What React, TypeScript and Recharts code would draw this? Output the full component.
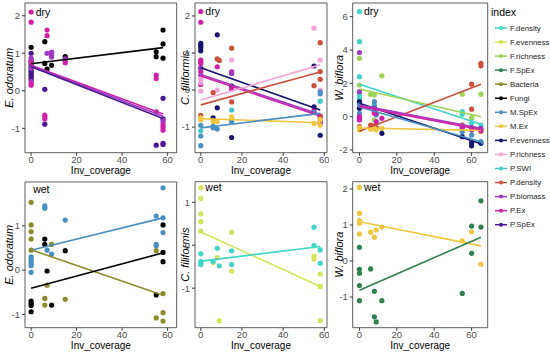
import { ScatterChart, Scatter, XAxis, YAxis, ReferenceArea, ReferenceDot } from "recharts";

type Pt = [number, number];

// colours per index
const COLORS: Record<string, string> = {
  "F.density": "#3FD6C8",
  "F.evenness": "#D4E45A",
  "F.richness": "#9ED455",
  "F.SpEx": "#2E8050",
  "Bacteria": "#8C8C2C",
  "Fungi": "#000000",
  "M.SpEx": "#4A8FC2",
  "M.Ex": "#EFC640",
  "P.evenness": "#14146E",
  "P.richness": "#F2A6D8",
  "P.SWI": "#40C4C4",
  "P.density": "#C8503C",
  "P.biomass": "#A038C0",
  "P.Ex": "#D020A8",
  "P.SpEx": "#4A1890",
};
const legendKeys = Object.keys(COLORS);
const xTicks = [0, 20, 40, 60];

// ---- dry / E. odoratum
const d1Fungi: Pt[] = [[0, 1.16], [0, 0.78], [0, 0.63], [0, 0.5], [0, 0.4], [0, 0.3], [6, 1.31], [6, 0.73], [7, 0.58], [9, 0.68], [15, 0.91], [15, 0.86], [55, 1.04], [55, 0.91], [58, 1.62], [58, 1.25], [58, 0.87]];
const d1SpEx: Pt[] = [[0, 1.0], [0, 0.7], [0, 0.55], [0, 0.45], [0, 0.35], [6, 0.04], [6, -0.89], [58, -0.2], [58, -0.75], [58, -1.4], [58, -1.43], [55, -1.45]];
const d1Biomass: Pt[] = [[0, 0.87], [0, 0.82], [0, 0.6], [0, 0.25], [7, 1.0], [9, 1.03], [9, 0.95], [9, 0.9], [15, 0.85], [15, 0.8], [55, -0.56], [58, -0.85], [58, -0.78]];
const d1Ex: Pt[] = [[0, 1.83], [0, 0.75], [0, 0.2], [0, 0.15], [7, 1.62], [7, 1.47], [6, -0.65], [6, -0.7], [6, -0.75], [15, 0.75], [55, 0.42], [55, 0.33], [58, -0.92], [58, -0.98], [58, -1.05]];
const d1Fit = { Fungi: [0.72, 1.15], "P.Ex": [0.68, -0.62], "P.biomass": [0.66, -0.68], "P.SpEx": [0.64, -0.74] };

// ---- dry / C. filiformis
const d2Even: Pt[] = [[0, 1.26], [0, 1.2], [0, 1.14], [0, 1.06], [0, 0.6], [6, -0.75], [8, 1.49], [8, -0.48], [15, 0.11], [15, -1.28], [55, 0.65], [55, -0.45], [58, -1.22]];
const d2Ex: Pt[] = [[0, 1.83], [0, 0.81], [0, 0.77], [0, 0.72], [0, 0.5], [0, 0.15], [8, 0.63], [15, 0.49], [15, 0.02], [55, -0.55], [58, -0.7], [58, -0.85], [58, -0.9]];
const d2Biomass: Pt[] = [[0, 0.6], [0, 0.4], [15, 0.45], [58, -0.75]];
const d2Rich: Pt[] = [[0, 0.3], [0, 0.2], [0, -0.03], [8, 0.0], [15, 0.81], [55, 1.67], [58, 0.81], [58, 0.0]];
const d2Dens: Pt[] = [[0, -0.68], [6, -0.07], [8, 0.84], [9, 0.8], [15, 1.13], [15, -0.32], [55, 0.12], [58, 1.28], [58, 0.5], [58, 0.29], [58, -0.7]];
const d2MEx: Pt[] = [[0, -0.75], [0, -0.8], [6, -0.85], [8, -0.85], [15, -0.72], [15, -0.78], [55, -0.9], [58, -0.95], [58, -0.8]];
const d2MSpEx: Pt[] = [[0, -0.95], [0, -1.24], [0, -1.5], [6, -0.98], [6, -1.02], [8, -1.05], [15, -0.85], [58, -0.05], [58, -0.1], [55, -0.6]];
const d2Swi: Pt[] = [[15, -0.54], [0, -1.1], [58, -0.3]];
const d2Fit = { "P.evenness": [0.6, -0.54], "P.biomass": [0.42, -0.66], "P.Ex": [0.38, -0.7], "P.richness": [-0.27, 0.68], "P.density": [-0.4, 0.49], "M.Ex": [-0.77, -0.88], "M.SpEx": [-1.02, -0.63] };

// ---- dry / W. biflora
const d3FDens: Pt[] = [[0, 4.5], [0, 2.4], [0, 1.3], [0, 1.1], [0, 1.0], [0, 0.85], [8, 0.7], [8, 0.4], [55, 0.3], [55, 0.15], [60, -0.1], [60, -0.4], [65, -0.5], [65, -0.8]];
const d3FRich: Pt[] = [[0, 3.5], [0, 1.9], [6, 1.35], [8, 1.3], [12, 2.45], [8, -0.2], [55, 1.35], [60, -0.05], [65, 1.35]];
const d3PDens: Pt[] = [[0, -0.6], [6, -0.5], [8, -0.55], [9, -0.65], [55, -0.5], [60, 1.95], [60, 0.45], [65, 3.2], [65, 3.05]];
const d3MEx: Pt[] = [[0, -0.65], [0, -0.75], [0, -0.8], [6, -0.75], [8, -0.7], [9, -0.8], [12, -0.7], [60, -0.8], [65, -0.9]];
const d3Even: Pt[] = [[0, 0.9], [0, 0.5], [8, 0.3], [12, -1.0], [55, -1.2], [60, -1.55], [60, -1.75], [65, -1.6]];
const d3MSpEx: Pt[] = [[0, 0.7], [0, 0.2], [8, 0.9], [8, 0.6], [9, 0.1], [55, -0.9], [60, -1.1], [65, -1.5]];
const d3Biomass: Pt[] = [[0, 3.85], [0, 1.5], [0, -0.1], [8, 0.5], [9, 0.2], [55, -0.65], [60, -0.8], [65, -0.7]];
const d3Ex: Pt[] = [[0, 0.0], [0, -0.2], [8, 0.2], [9, -0.3], [12, -0.1], [55, -0.6], [60, -0.65], [65, -0.85]];
const d3Fit = { "F.density": [1.94, -0.45], "F.richness": [1.66, 0.0], "P.density": [-0.88, 1.94], "M.Ex": [-0.68, -0.82], "P.evenness": [0.8, -1.62], "M.SpEx": [0.58, -1.5], "P.biomass": [0.7, -0.7], "P.Ex": [0.62, -0.78] };

// ---- wet / E. odoratum
const w1Bact: Pt[] = [[0, 1.53], [0, 1.02], [0, 0.87], [0, 0.7], [0, 0.45], [6, -0.64], [6, -0.79], [7, -0.34], [9, 0.58], [15, -0.66], [55, 0.44], [55, -1.08], [58, -0.53], [58, -0.96], [58, -1.15]];
const w1MSpEx: Pt[] = [[0, 0.3], [0, 0.25], [0, 0.2], [0, 0.15], [0, 0.1], [0, -0.05], [6, 1.45], [6, 1.4], [7, 0.45], [9, 0.36], [15, 1.13], [55, 1.22], [55, 0.58], [55, 0.55], [58, 1.86], [58, 1.18], [58, 0.85]];
const w1Fungi: Pt[] = [[0, -0.7], [0, -0.75], [0, -0.8], [0, -0.94], [6, 0.7], [6, 0.58], [7, -0.02], [9, -0.79], [15, 0.44], [55, -0.56], [58, 1.02], [58, 0.4], [58, 0.19]];
const w1Fit = { "M.SpEx": [0.45, 1.18], Bacteria: [0.46, -0.57], Fungi: [-0.41, 0.39] };

// ---- wet / C. filiformis
const w2FEven: Pt[] = [[0, 1.09], [0, 0.73], [0, 0.55], [0, 0.33], [6, -0.4], [8, -0.29], [9, -1.76], [15, 0.3], [15, -0.6], [55, -0.25], [55, -0.32], [58, -0.67], [58, -0.96], [58, -1.76]];
const w2FDens: Pt[] = [[0, -0.2], [0, -0.38], [0, -0.42], [0, -0.45], [6, -0.38], [8, -0.07], [9, -0.48], [15, -0.13], [15, -0.45], [55, 0.42], [55, -0.01], [58, -0.11], [58, -0.42]];
const w2Fit = { "F.evenness": [0.31, -0.96], "F.density": [-0.37, -0.03] };

// ---- wet / W. biflora
const w3MEx: Pt[] = [[0, 1.32], [0, 1.12], [0, 1.05], [0, 0.75], [6, 0.8], [8, 0.66], [9, 0.86], [12, 0.94], [55, 0.56], [60, 0.81], [65, -0.09]];
const w3FSpEx: Pt[] = [[0, 0.38], [0, -0.23], [0, -0.34], [0, -0.68], [0, -1.1], [6, -0.22], [8, -0.84], [8, -1.55], [9, -1.69], [12, -1.1], [55, -0.9], [60, 0.97], [60, 0.21], [65, 1.67], [65, 0.94]];
const w3Fit = { "M.Ex": [1.09, 0.42], "F.SpEx": [-0.81, 0.66] };

const toXY = (pts: Pt[]) => pts.map(([x, y]) => ({ x, y }));

const YTitle = (p: any) => {
  const cx = p.viewBox.x + 9;
  const cy = p.viewBox.y + p.viewBox.height / 2;
  return (
    <text x={cx} y={cy} transform={`rotate(-90 ${cx} ${cy})`} textAnchor="middle" dominantBaseline="central"
      fontSize={11} fontStyle="italic" fill="#000">{p.text}</text>
  );
};

const XTitle = (p: any) => (
  <text x={p.viewBox.x + p.viewBox.width / 2} y={p.viewBox.y + 18} textAnchor="middle" dominantBaseline="central"
    fontSize={10} fill="#000">Inv_coverage</text>
);

const TagLabel = (p: any) => (
  <text x={p.viewBox.x + p.viewBox.width + 2} y={p.viewBox.y + p.viewBox.height / 2} dominantBaseline="central"
    fontSize={10.5} fill="#000">{p.text}</text>
);

type PanelProps = {
  box: { left: number; top: number; pl: number; pr: number; pt: number; pb: number };
  xDomain: [number, number];
  xEnd: number;
  yDomain: [number, number];
  yTicks: number[];
  yTitle: string;
  points: Record<string, Pt[]>;
  fits: Record<string, number[]>;
  tag: string;
  tagKey?: string;
  tagY: number;
};

function Panel({ box, xDomain, xEnd, yDomain, yTicks, yTitle, points, fits, tag, tagKey, tagY }: PanelProps) {
  const width = box.pr - box.left + 2;
  const height = box.pb - box.top + 25;
  const tickStyle = { fontSize: 9.5, fill: "#4d4d4d" };
  return (
    <div style={{ position: "absolute", left: box.left, top: box.top }}>
      <ScatterChart width={width} height={height} margin={{ top: box.pt - box.top, right: 2, bottom: 0, left: 0 }}>
        <XAxis type="number" dataKey="x" domain={xDomain} ticks={xTicks} allowDataOverflow height={25}
          axisLine={false} tickSize={3} tickMargin={1} tickLine={{ stroke: "#333" }} tick={tickStyle}
          interval={0} label={<XTitle />} />
        <YAxis type="number" dataKey="y" domain={yDomain} ticks={yTicks} allowDataOverflow width={box.pl - box.left}
          axisLine={false} tickSize={3} tickMargin={2} tickLine={{ stroke: "#333" }} tick={tickStyle}
          interval={0} label={<YTitle text={yTitle} />} />
        {Object.entries(points).map(([k, pts]) => (
          <Scatter key={k} data={toXY(pts)} fill={COLORS[k]} isAnimationActive={false}
            shape={(s: any) => <circle cx={s.cx} cy={s.cy} r={2.6} fill={COLORS[k]} />} />
        ))}
        {Object.entries(fits).map(([k, f]) => (
          <Scatter key={k + "-fit"} data={[{ x: 0, y: f[0] }, { x: xEnd, y: f[1] }]} fill={COLORS[k]}
            line={{ stroke: COLORS[k], strokeWidth: 1.6 }} shape={() => <g />} isAnimationActive={false} />
        ))}
        <ReferenceDot x={0} y={tagY} r={tagKey ? 2.6 : 0} fill={tagKey ? COLORS[tagKey] : "none"} stroke="none"
          ifOverflow="visible" label={<TagLabel text={tag} />} />
        <ReferenceArea x1={xDomain[0]} x2={xDomain[1]} y1={yDomain[0]} y2={yDomain[1]}
          fill="none" stroke="#333" strokeWidth={0.8} fillOpacity={0} />
      </ScatterChart>
    </div>
  );
}

export default function App() {
  return (
    <div style={{
      position: "absolute", left: 0, top: 0, width: 550, height: 357, background: "#fff", overflow: "hidden",
      fontFamily: "'Liberation Sans', Arial, sans-serif",
    }}>
      <Panel box={{ left: 0, top: 0, pl: 25, pr: 176.7, pt: 3, pb: 152.7 }} xDomain={[-2.7, 64]} xEnd={58}
        yDomain={[-1.65, 2.34]} yTicks={[-1, 0, 1, 2]} yTitle="E.  odoratum"
        points={{ Fungi: d1Fungi, "P.SpEx": d1SpEx, "P.biomass": d1Biomass, "P.Ex": d1Ex }} fits={d1Fit}
        tag="dry" tagKey="P.Ex" tagY={2.1} />
      <Panel box={{ left: 176, top: 0, pl: 195, pr: 327, pt: 3, pb: 152.7 }} xDomain={[-2.8, 61.3]} xEnd={58}
        yDomain={[-1.69, 2.35]} yTicks={[-1, 0, 1, 2]} yTitle="C.  filiformis"
        points={{ "P.evenness": d2Even, "P.Ex": d2Ex, "P.biomass": d2Biomass, "P.richness": d2Rich, "P.density": d2Dens, "M.Ex": d2MEx, "M.SpEx": d2MSpEx, "P.SWI": d2Swi }}
        fits={d2Fit} tag="dry" tagKey="P.Ex" tagY={2.12} />
      <Panel box={{ left: 330, top: 0, pl: 352.7, pr: 487.7, pt: 3, pb: 152.7 }} xDomain={[-3.6, 68.6]} xEnd={65}
        yDomain={[-2.16, 6.82]} yTicks={[-2, 0, 2, 4, 6]} yTitle="W.  biflora"
        points={{ "F.density": d3FDens, "F.richness": d3FRich, "P.density": d3PDens, "M.Ex": d3MEx, "P.evenness": d3Even, "M.SpEx": d3MSpEx, "P.biomass": d3Biomass, "P.Ex": d3Ex }}
        fits={d3Fit} tag="dry" tagKey="F.density" tagY={6.3} />
      <Panel box={{ left: 0, top: 178, pl: 25, pr: 176.7, pt: 182, pb: 327.7 }} xDomain={[-2.7, 64]} xEnd={58}
        yDomain={[-1.3, 1.99]} yTicks={[-1, 0, 1]} yTitle="E.  odoratum"
        points={{ Bacteria: w1Bact, "M.SpEx": w1MSpEx, Fungi: w1Fungi }} fits={w1Fit}
        tag="wet" tagY={1.83} />
      <Panel box={{ left: 176, top: 178, pl: 195, pr: 327, pt: 181.7, pb: 327.7 }} xDomain={[-2.8, 61.3]} xEnd={58}
        yDomain={[-1.92, 1.48]} yTicks={[-1, 0, 1]} yTitle="C.  filiformis"
        points={{ "F.evenness": w2FEven, "F.density": w2FDens }} fits={w2Fit}
        tag="wet" tagKey="F.evenness" tagY={1.34} />
      <Panel box={{ left: 330, top: 178, pl: 352.7, pr: 487.7, pt: 181.7, pb: 327.7 }} xDomain={[-3.6, 68.6]} xEnd={65}
        yDomain={[-1.85, 2.2]} yTicks={[-1, 0, 1, 2]} yTitle="W.  biflora"
        points={{ "M.Ex": w3MEx, "F.SpEx": w3FSpEx }} fits={w3Fit}
        tag="wet" tagKey="M.Ex" tagY={2.04} />

      {/* legend */}
      <svg width={62} height={240} style={{ position: "absolute", left: 488, top: 0 }}>
        <text x={3} y={12} dominantBaseline="central" fontSize={10.5} fill="#000">index</text>
        {legendKeys.map((k, i) => {
          const y = 28 + i * 14.05;
          return (
            <g key={k}>
              <line x1={7} x2={19} y1={y} y2={y} stroke={COLORS[k]} strokeWidth={1.5} />
              <circle cx={13} cy={y} r={2} fill={COLORS[k]} />
              <text x={22} y={y} dominantBaseline="central" fontSize={7.8} fill="#222">{k}</text>
            </g>
          );
        })}
      </svg>
    </div>
  );
}
